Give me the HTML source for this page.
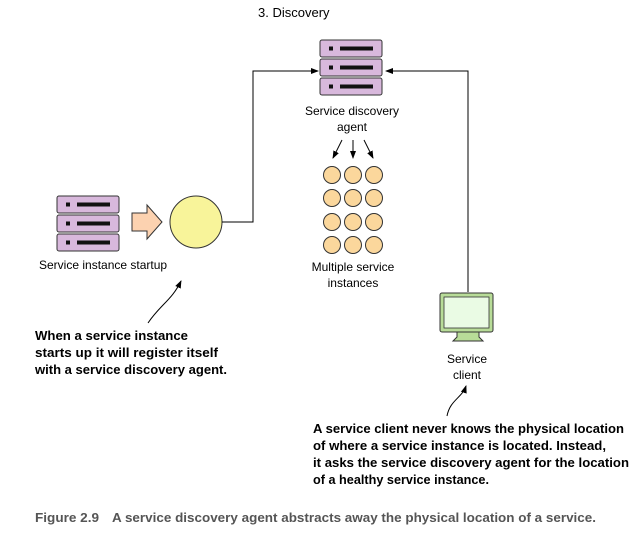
<!DOCTYPE html>
<html><head><meta charset="utf-8"><style>
html,body{margin:0;padding:0;background:#fff;}
svg{display:block;}
text{font-family:"Liberation Sans",sans-serif;}
</style></head><body>
<svg width="643" height="537" viewBox="0 0 643 537" xmlns="http://www.w3.org/2000/svg">
<defs>
<marker id="ah" markerWidth="8" markerHeight="8" refX="7" refY="4" orient="auto" markerUnits="userSpaceOnUse">
<path d="M0,1 L8,4 L0,7 Z" fill="#000"/>
</marker>
<g id="srv">
<rect x="0" y="0" width="62" height="17" rx="2" fill="#d8b8dc" stroke="#333" stroke-width="1"/>
<rect x="9" y="6.5" width="4" height="4" fill="#111"/>
<rect x="20" y="6.5" width="33" height="4" fill="#111"/>
</g>
</defs>
<text x="258" y="17" font-size="13">3. Discovery</text>

<use href="#srv" x="57" y="196"/>
<use href="#srv" x="57" y="215"/>
<use href="#srv" x="57" y="234"/>
<path d="M132,213 L147,213 L147,205 L162,222 L147,239 L147,231 L132,231 Z" fill="#fcd2b0" stroke="#333" stroke-width="1"/>
<circle cx="196" cy="222" r="26" fill="#f8f49a" stroke="#333" stroke-width="1"/>
<text x="39" y="269" font-size="12">Service instance startup</text>

<use href="#srv" x="320" y="40"/>
<use href="#srv" x="320" y="59"/>
<use href="#srv" x="320" y="78"/>
<text x="352" y="115" font-size="12" text-anchor="middle">Service discovery</text>
<text x="352" y="131" font-size="12" text-anchor="middle">agent</text>

<polyline points="222,222 253,222 253,71 318,71" fill="none" stroke="#000" stroke-width="1" marker-end="url(#ah)"/>
<polyline points="468,292 468,71 386,71" fill="none" stroke="#000" stroke-width="1" marker-end="url(#ah)"/>

<line x1="342" y1="140" x2="333" y2="158" stroke="#000" marker-end="url(#ah)"/>
<line x1="353" y1="140" x2="353" y2="158" stroke="#000" marker-end="url(#ah)"/>
<line x1="364" y1="140" x2="373" y2="158" stroke="#000" marker-end="url(#ah)"/>

<g fill="#fbd79c" stroke="#333" stroke-width="1">
<circle cx="332" cy="175" r="8.5"/><circle cx="353" cy="175" r="8.5"/><circle cx="374" cy="175" r="8.5"/>
<circle cx="332" cy="198" r="8.5"/><circle cx="353" cy="198" r="8.5"/><circle cx="374" cy="198" r="8.5"/>
<circle cx="332" cy="222" r="8.5"/><circle cx="353" cy="222" r="8.5"/><circle cx="374" cy="222" r="8.5"/>
<circle cx="332" cy="245" r="8.5"/><circle cx="353" cy="245" r="8.5"/><circle cx="374" cy="245" r="8.5"/>
</g>
<text x="353" y="271" font-size="12" text-anchor="middle">Multiple service</text>
<text x="353" y="287" font-size="12" text-anchor="middle">instances</text>

<rect x="440" y="293" width="53" height="39" rx="2" fill="#b8dc98" stroke="#333"/>
<rect x="444" y="297" width="45" height="31" fill="#eafbe4" stroke="#333" stroke-width="0.8"/>
<path d="M457,332 L479,332 L479,337 L483,341 L453,341 L457,337 Z" fill="#b8dc98" stroke="#333"/>
<text x="467" y="363" font-size="12" text-anchor="middle">Service</text>
<text x="467" y="379" font-size="12" text-anchor="middle">client</text>

<path d="M148,323 C160,305 172,300 181,281" fill="none" stroke="#000" marker-end="url(#ah)"/>
<path d="M447,416 C450,400 462,398 466,386" fill="none" stroke="#000" marker-end="url(#ah)"/>

<g font-size="13" font-weight="bold">
<text x="35" y="340" textLength="153" lengthAdjust="spacingAndGlyphs">When a service instance</text>
<text x="35" y="357" textLength="183" lengthAdjust="spacingAndGlyphs">starts up it will register itself</text>
<text x="35" y="374" textLength="192" lengthAdjust="spacingAndGlyphs">with a service discovery agent.</text>
<text x="313" y="433" textLength="311" lengthAdjust="spacingAndGlyphs">A service client never knows the physical location</text>
<text x="313" y="450" textLength="293" lengthAdjust="spacingAndGlyphs">of where a service instance is located. Instead,</text>
<text x="313" y="467" textLength="316" lengthAdjust="spacingAndGlyphs">it asks the service discovery agent for the location</text>
<text x="313" y="484" textLength="176" lengthAdjust="spacingAndGlyphs">of a healthy service instance.</text>
</g>
<g font-size="12.5" font-weight="bold" fill="#555">
<text x="35" y="522" textLength="64" lengthAdjust="spacingAndGlyphs">Figure 2.9</text>
<text x="112" y="522" textLength="484" lengthAdjust="spacingAndGlyphs">A service discovery agent abstracts away the physical location of a service.</text>
</g>
</svg>
</body></html>
